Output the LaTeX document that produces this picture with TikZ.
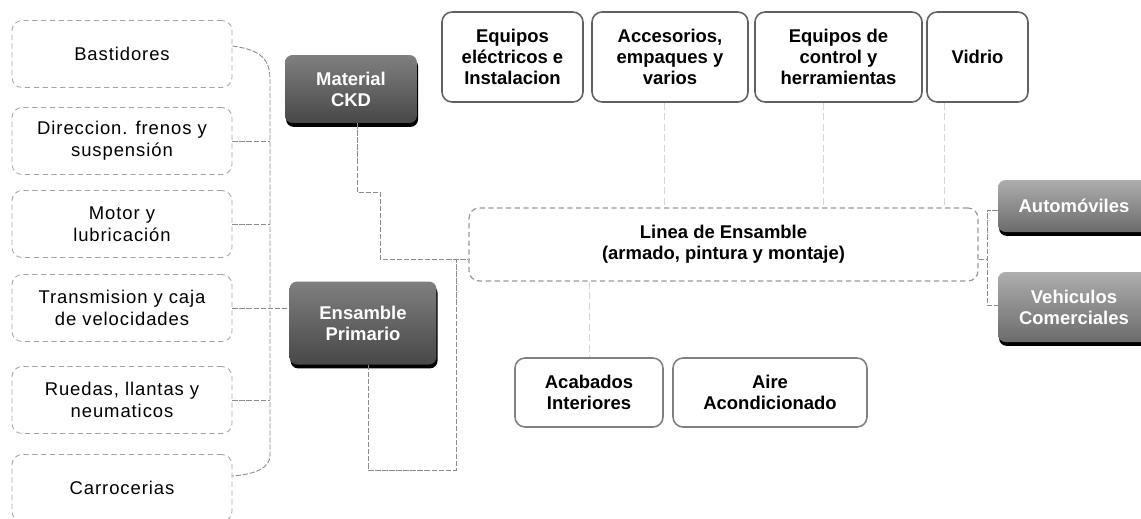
\documentclass[tikz,border=0pt]{standalone}
\usepackage{fontspec}
\setmainfont{Liberation Sans}
\newfontfamily\spacedfont{Liberation Sans}[LetterSpace=5]
\usetikzlibrary{shadows}
\begin{document}
\begin{tikzpicture}[x=0.02cm, y=-0.02cm,
  partbox/.style={draw=black!35, densely dashed, line width=0.5pt, rounded corners=0.2cm,
    minimum width=4.4cm, minimum height=1.34cm, align=center,
    font=\spacedfont\fontsize{10.5}{12.5}\selectfont},
  supbox/.style={draw=black!62, line width=0.9pt, rounded corners=0.2cm,
    minimum height=1.8cm, align=center, font=\bfseries\fontsize{10.5}{12}\selectfont},
  darkbox/.style={rounded corners=0.15cm, top color=black!50, bottom color=black!72,
    text=white, align=center, font=\bfseries\fontsize{10.5}{12}\selectfont,
    drop shadow={shadow xshift=0.6pt, shadow yshift=-2.2pt, fill=black, opacity=1}},
  lightbox/.style={darkbox, top color=black!32, bottom color=black!58},
  link/.style={draw=black!45, line width=0.5pt, dash pattern=on 3pt off 1pt},
  faint/.style={draw=black!16, line width=0.5pt, dash pattern=on 4pt off 2pt}]
\useasboundingbox (0,0) rectangle (1141,518);

% piezas
\node[partbox] (bast) at (122,54) {Bastidores};
\node[partbox] (dir) at (122,141) {Direccion. frenos y\\suspensión};
\node[partbox] (mot) at (122,224) {Motor y\\lubricación};
\node[partbox] (trans) at (122,308) {Transmision y caja\\de velocidades};
\node[partbox] (rued) at (122,400) {Ruedas, llantas y\\neumaticos};
\node[partbox] (carr) at (122,488) {Carrocerias};

\node[darkbox, minimum width=2.64cm, minimum height=1.36cm] (ckd) at (351,89) {Material\\CKD};
\node[darkbox, minimum width=2.94cm, minimum height=1.66cm] (prim) at (363,323) {Ensamble\\Primario};

% proveedores
\node[supbox, minimum width=2.82cm] (elec) at (512.5,57) {Equipos\\eléctricos e\\Instalacion};
\node[supbox, minimum width=3.12cm] (acc) at (670,57) {Accesorios,\\empaques y\\varios};
\node[supbox, minimum width=3.34cm] (ctrl) at (838.5,57) {Equipos de\\control y\\herramientas};
\node[supbox, minimum width=2.02cm] (vid) at (977.5,57) {Vidrio};

\node[supbox, draw=black!40, densely dashed, line width=0.7pt, minimum width=10.18cm, minimum height=1.46cm]
  (lin) at (723.5,244.5) {Linea de Ensamble\\(armado, pintura y montaje)};

\node[supbox, draw=black!50, minimum width=2.96cm, minimum height=1.38cm] (acab) at (589,392.5) {Acabados\\Interiores};
\node[supbox, draw=black!50, minimum width=3.88cm, minimum height=1.38cm] (aire) at (770,392.5) {Aire\\Acondicionado};

\node[lightbox, minimum width=3.04cm, minimum height=1.04cm] (auto) at (1074,206) {Automóviles};
\node[lightbox, minimum width=3.04cm, minimum height=1.4cm] (veh) at (1074,307) {Vehiculos\\Comerciales};

% llave de la izquierda
\draw[link] (bast.east |- 0,46) .. controls (262,50) and (270,60) .. (270,80) -- (270,455)
  .. controls (270,468) and (256,474) .. (carr.east |- 0,476);
\draw[link] (dir.east) -- (dir.east -| 270,0);
\draw[link] (mot.east) -- (mot.east -| 270,0);
\draw[link] (rued.east) -- (rued.east -| 270,0);
\draw[link] (trans.east) -- (trans.east -| prim.west);

\draw[link] (ckd.south -| 357,0) |- (380,192) |- (lin.west |- 0,259);
\draw[link] (prim.south -| 368,0) |- (456,470) -- (456,259);

\draw[faint] (acc.south -| 664,0) -- (lin.north -| 664,0);
\draw[faint] (ctrl.south -| 823,0) -- (lin.north -| 823,0);
\draw[faint] (vid.south -| 944,0) -- (lin.north -| 944,0);
\draw[faint] (lin.south -| acab.north) -- (acab.north);

% salida
\coordinate (rb) at (987,259);
\draw[link] (lin.east |- rb) -- (rb);
\draw[link] (auto.west |- 0,210) -| (rb) |- (veh.west |- 0,305);
\end{tikzpicture}
\end{document}
